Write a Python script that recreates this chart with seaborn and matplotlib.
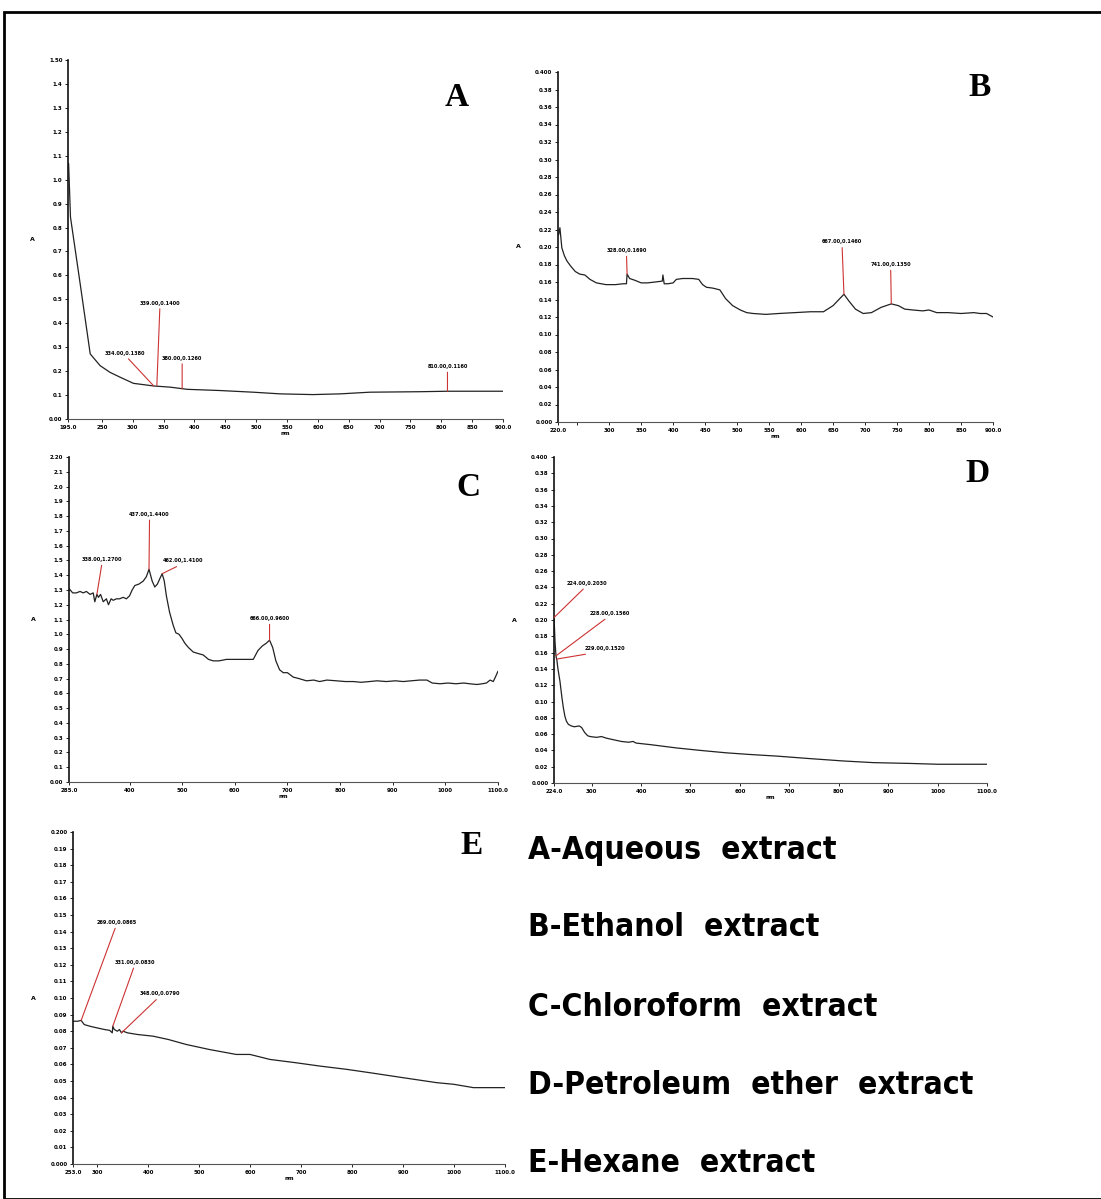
import numpy as np
import pandas as pd
import seaborn as sns
import matplotlib.pyplot as plt
from matplotlib.patches import Rectangle

# ---- spectra (nm, absorbance) ----
a_nm = [195, 196, 199, 215, 231, 247, 263, 280, 301, 334, 361, 388, 441, 495, 539, 592, 636, 684, 765, 810, 900]
a_abs = [1.07, 1.067, 0.844, 0.56, 0.272, 0.223, 0.195, 0.174, 0.149, 0.138, 0.133, 0.124, 0.119, 0.112, 0.105,
         0.102, 0.105, 0.112, 0.114, 0.116, 0.116]

b_nm = [221, 223, 226, 230, 234, 240, 247, 254, 262, 270, 280, 295, 310, 322, 327, 328, 332, 340, 350, 360, 372,
        383, 384, 386, 392, 400, 405, 415, 430, 440, 446, 452, 462, 473, 482, 493, 505, 515, 525, 545, 565, 590,
        615, 635, 650, 667, 675, 685, 697, 710, 725, 741, 752, 762, 775, 790, 800, 812, 830, 850, 870, 880, 890, 900]
b_abs = [0.214, 0.222, 0.199, 0.19, 0.184, 0.178, 0.172, 0.169, 0.168, 0.163, 0.159, 0.157, 0.157, 0.158, 0.158,
         0.169, 0.164, 0.162, 0.159, 0.159, 0.160, 0.161, 0.168, 0.158, 0.158, 0.159, 0.163, 0.164, 0.164, 0.163,
         0.157, 0.154, 0.153, 0.151, 0.141, 0.133, 0.128, 0.125, 0.124, 0.123, 0.124, 0.125, 0.126, 0.126, 0.133,
         0.146, 0.138, 0.129, 0.124, 0.125, 0.131, 0.135, 0.133, 0.129, 0.128, 0.127, 0.128, 0.125, 0.125, 0.124,
         0.125, 0.124, 0.124, 0.120]

c_nm = [285, 292, 299, 306, 312, 318, 325, 331, 334, 338, 341, 345, 350, 356, 360, 365, 369, 375, 381, 388, 394,
        400, 405, 410, 418, 426, 432, 437, 443, 448, 453, 458, 462, 466, 470, 476, 483, 488, 494, 500, 505, 512,
        521, 530, 540, 550, 559, 570, 584, 600, 620, 635, 644, 652, 660, 666, 672, 678, 685, 692, 700, 711, 722,
        736, 750, 761, 775, 793, 810, 825, 840, 856, 870, 888, 905, 920, 935, 951, 965, 975, 990, 1005, 1020,
        1035, 1046, 1060, 1070, 1078, 1085, 1091, 1095, 1100]
c_abs = [1.31, 1.28, 1.28, 1.29, 1.28, 1.29, 1.27, 1.28, 1.22, 1.27, 1.25, 1.27, 1.22, 1.24, 1.20, 1.24, 1.23,
         1.24, 1.24, 1.25, 1.24, 1.26, 1.30, 1.33, 1.34, 1.36, 1.39, 1.44, 1.36, 1.32, 1.34, 1.38, 1.41, 1.36,
         1.26, 1.15, 1.06, 1.01, 1.00, 0.97, 0.94, 0.91, 0.88, 0.87, 0.86, 0.83, 0.82, 0.82, 0.83, 0.83, 0.83,
         0.83, 0.89, 0.92, 0.94, 0.96, 0.91, 0.82, 0.76, 0.74, 0.74, 0.71, 0.70, 0.685, 0.69, 0.68, 0.69, 0.685,
         0.68, 0.68, 0.675, 0.68, 0.685, 0.68, 0.685, 0.68, 0.685, 0.69, 0.69, 0.67, 0.665, 0.67, 0.665, 0.67,
         0.665, 0.66, 0.665, 0.67, 0.69, 0.68, 0.71, 0.75]

d_nm = [224, 225, 226, 228, 230, 232, 236, 240, 243, 246, 249, 253, 259, 265, 275, 280, 286, 292, 297, 310, 320,
        330, 345, 360, 375, 384, 390, 420, 472, 520, 573, 620, 675, 740, 810, 870, 945, 1000, 1050, 1100]
d_abs = [0.203, 0.19, 0.174, 0.156, 0.15, 0.14, 0.125, 0.105, 0.092, 0.082, 0.076, 0.072, 0.070, 0.069, 0.070,
         0.068, 0.062, 0.058, 0.057, 0.056, 0.057, 0.055, 0.053, 0.051, 0.050, 0.051, 0.049, 0.047, 0.043, 0.040,
         0.037, 0.035, 0.033, 0.030, 0.027, 0.025, 0.024, 0.023, 0.023, 0.023]

e_nm = [253, 262, 269, 275, 286, 300, 315, 325, 330, 331, 334, 340, 344, 348, 351, 360, 380, 410, 440, 475, 520,
        573, 600, 639, 690, 737, 790, 835, 900, 966, 1000, 1038, 1070, 1100]
e_abs = [0.086, 0.086, 0.0865, 0.084, 0.083, 0.082, 0.081, 0.0805, 0.079, 0.083, 0.081, 0.080, 0.081, 0.079,
         0.080, 0.079, 0.078, 0.077, 0.075, 0.072, 0.069, 0.066, 0.066, 0.063, 0.061, 0.059, 0.057, 0.055, 0.052,
         0.049, 0.048, 0.046, 0.046, 0.046]

# ---- peak pick labels: (peak nm, peak A, label nm, label A) ----
a_peaks = [(334, 0.138, 288, 0.265), (339, 0.14, 344, 0.474), (380, 0.126, 380, 0.244), (810, 0.116, 810, 0.209)]
b_peaks = [(328, 0.169, 327, 0.193), (667, 0.146, 664, 0.203), (741, 0.135, 740, 0.177)]
c_peaks = [(338, 1.27, 348, 1.489), (437, 1.44, 438, 1.795), (462, 1.41, 502, 1.48), (666, 0.96, 666, 1.09)]
d_peaks = [(224, 0.203, 290, 0.242), (228, 0.156, 336, 0.205), (229, 0.152, 327, 0.162)]
e_peaks = [(269, 0.0865, 338, 0.144), (331, 0.083, 374, 0.120), (348, 0.079, 423, 0.101)]

# ---- axes ranges and tick labels ----
a_xticks = [195, 250, 300, 350, 400, 450, 500, 550, 600, 650, 700, 750, 800, 850, 900]
b_xticks = [220, 250, 300, 350, 400, 450, 500, 550, 600, 650, 700, 750, 800, 850, 900]
c_xticks = [285, 400, 500, 600, 700, 800, 900, 1000, 1100]
d_xticks = [224, 300, 400, 500, 600, 700, 800, 900, 1000, 1100]
e_xticks = [253, 300, 400, 500, 600, 700, 800, 900, 1000, 1100]

panels = ['A', 'B', 'C', 'D', 'E']
legend_lines = ['A-Aqueous  extract', 'B-Ethanol  extract', 'C-Chloroform  extract',
                'D-Petroleum  ether  extract', 'E-Hexane  extract']

sns.set_style('ticks')
plt.rcParams['text.color'] = 'black'
plt.rcParams['xtick.color'] = 'black'
plt.rcParams['ytick.color'] = 'black'
plt.rcParams['axes.labelcolor'] = 'black'

W, H = 1101, 1199
fig = plt.figure(figsize=(W / 100, H / 100), dpi=100)


def px_axes(left, top, right, bottom):
    return fig.add_axes([left / W, 1 - bottom / H, (right - left) / W, (bottom - top) / H])


def xlab(ticks):
    out = [str(t) for t in ticks]
    out[0] = f'{ticks[0]:.1f}'
    out[-1] = f'{ticks[-1]:.1f}'
    return out


def ylab(ticks, step_dec, end_dec):
    out = [f'{t:.{step_dec}f}' for t in ticks]
    out[0] = f'{ticks[0]:.{end_dec}f}'
    out[-1] = f'{ticks[-1]:.{end_dec}f}'
    return out


def draw(ax, nm, ab, peaks, xticks, ymax, ystep, step_dec, end_dec):
    df = pd.DataFrame({'nm': nm, 'A': ab})
    sns.lineplot(data=df, x='nm', y='A', ax=ax, color='#222222', lw=0.9, sort=False)
    ax.set_xlim(xticks[0], xticks[-1])
    ax.set_ylim(0, ymax)
    yt = np.round(np.arange(0, ymax + ystep / 2, ystep), 4)
    ax.set_yticks(yt)
    ax.set_yticklabels(ylab(list(yt), step_dec, end_dec), fontsize=4, fontweight='bold')
    ax.set_xticks(xticks)
    labs = xlab(xticks)
    if xticks[1] == 250 and xticks[0] == 220:
        labs[1] = ''
    ax.set_xticklabels(labs, fontsize=4, fontweight='bold')
    ax.set_xlabel('nm', fontsize=4, fontweight='bold', labelpad=1)
    ax.set_ylabel('A', fontsize=4.5, fontweight='bold', rotation=0, labelpad=12, va='center')
    ax.tick_params(length=2, width=0.6, pad=2)
    sns.despine(ax=ax)
    ax.spines['left'].set_linewidth(1.2)
    ax.spines['left'].set_color('#111111')
    ax.spines['bottom'].set_linewidth(0.8)
    ax.spines['bottom'].set_color('#555555')
    for pn, pa, ln, la in peaks:
        ax.annotate(f'{pn:.2f},{pa:.4f}', xy=(pn, pa), xytext=(ln, la), ha='center', va='bottom',
                    fontsize=3.6, fontweight='bold',
                    arrowprops=dict(arrowstyle='-', color='#cc3333', lw=0.8, shrinkA=0, shrinkB=0,
                                    relpos=(0.5, 0)))


axA = px_axes(68, 60, 503, 419)
draw(axA, a_nm, a_abs, a_peaks, a_xticks, 1.5, 0.1, 1, 2)
axB = px_axes(558, 72, 993, 422)
draw(axB, b_nm, b_abs, b_peaks, b_xticks, 0.4, 0.02, 2, 3)
axC = px_axes(69, 457, 498, 782)
draw(axC, c_nm, c_abs, c_peaks, c_xticks, 2.2, 0.1, 1, 2)
axD = px_axes(554, 457, 987, 783)
draw(axD, d_nm, d_abs, d_peaks, d_xticks, 0.4, 0.02, 2, 3)
axE = px_axes(73, 832, 505, 1164)
draw(axE, e_nm, e_abs, e_peaks, e_xticks, 0.2, 0.01, 2, 3)

# panel letters
letter_pos = [(457, 97), (980, 87), (468, 488), (978, 473), (472, 845)]
for letter, (x, y) in zip(panels, letter_pos):
    fig.text(x / W, 1 - y / H, letter, ha='center', va='center', fontsize=24, fontweight='bold',
             family=['Liberation Serif', 'DejaVu Serif'])

# legend text block: condensed bold sans, sized so the longest line ends where the picture's does
legend_y = [850, 927, 1007, 1085, 1163]
fig.canvas.draw()
r = fig.canvas.get_renderer()
legend_texts = []
for txt, y in zip(legend_lines, legend_y):
    t = fig.text(528 / W, 1 - y / H, txt, ha='left', va='center', fontsize=30,
                 family=['DejaVu Sans'], stretch='condensed', fontweight='bold')
    legend_texts.append(t)
longest = max(t.get_window_extent(r).width for t in legend_texts)
size = 30 * 445 / longest
for t in legend_texts:
    t.set_fontsize(size)

# outer frame
fig.patches.append(Rectangle((4 / W, 0), (W - 3) / W, (H - 12) / H, transform=fig.transFigure,
                             fill=False, edgecolor='black', lw=2))

fig.savefig('out.png', dpi=100)
